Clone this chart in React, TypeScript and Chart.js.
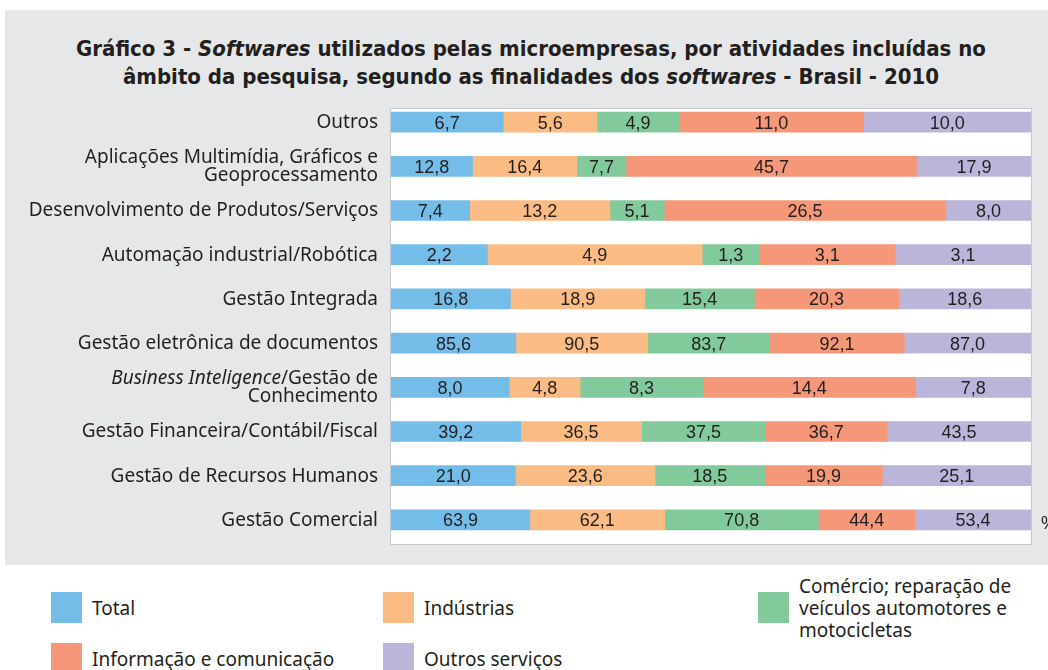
import React, { useEffect, useRef } from "react";
import { Chart, registerables } from "chart.js";

Chart.register(...registerables);

const categories = [
  "Outros",
  "Aplicações Multimídia, Gráficos e\nGeoprocessamento",
  "Desenvolvimento de Produtos/Serviços",
  "Automação industrial/Robótica",
  "Gestão Integrada",
  "Gestão eletrônica de documentos",
  "*Business Inteligence*/Gestão de\nConhecimento",
  "Gestão Financeira/Contábil/Fiscal",
  "Gestão de Recursos Humanos",
  "Gestão Comercial",
];

const seriesNames = [
  "Total",
  "Indústrias",
  "Comércio; reparação de\nveículos automotores e\nmotocicletas",
  "Informação e comunicação",
  "Outros serviços",
];

const total = [6.7, 12.8, 7.4, 2.2, 16.8, 85.6, 8.0, 39.2, 21.0, 63.9];
const industrias = [5.6, 16.4, 13.2, 4.9, 18.9, 90.5, 4.8, 36.5, 23.6, 62.1];
const comercio = [4.9, 7.7, 5.1, 1.3, 15.4, 83.7, 8.3, 37.5, 18.5, 70.8];
const informacao = [11.0, 45.7, 26.5, 3.1, 20.3, 92.1, 14.4, 36.7, 19.9, 44.4];
const outrosServicos = [10.0, 17.9, 8.0, 3.1, 18.6, 87.0, 7.8, 43.5, 25.1, 53.4];

const seriesValues = [total, industrias, comercio, informacao, outrosServicos];
const seriesColors = ["#74bde8", "#fabb85", "#82ca9b", "#f59779", "#bab5d9"];

const LABEL_FONT = '"Noto Sans", sans-serif';
const VALUE_FONT = '"Liberation Sans", Arial, sans-serif';
const TITLE_FONT = '"Liberation Sans Narrow", "DejaVu Sans Condensed", sans-serif';

const fmt = (v: number) => v.toFixed(1).replace(".", ",");

function drawMixed(ctx: CanvasRenderingContext2D, line: string, rightX: number, y: number, size: number) {
  const parts = line.split("*");
  const segs = parts.map((t, i) => ({ t, italic: i % 2 === 1 })).filter((s) => s.t.length);
  let w = 0;
  for (const s of segs) {
    ctx.font = `${s.italic ? "italic " : ""}${size}px ${LABEL_FONT}`;
    w += ctx.measureText(s.t).width;
  }
  let x = rightX - w;
  ctx.textAlign = "left";
  for (const s of segs) {
    ctx.font = `${s.italic ? "italic " : ""}${size}px ${LABEL_FONT}`;
    ctx.fillText(s.t, x, y);
    x += ctx.measureText(s.t).width;
  }
}

const customPlugin = {
  id: "customDraw",
  beforeDatasetsDraw(chart: any) {
    const { ctx, chartArea } = chart;
    ctx.save();
    const x0 = chartArea.left - 0.5;
    const y0 = chartArea.top + 8.5;
    const w = chartArea.right - chartArea.left + 1;
    const h = chartArea.bottom + 2.5 - y0;
    ctx.fillStyle = "#ffffff";
    ctx.fillRect(x0, y0, w, h);
    ctx.strokeStyle = "#c8c9cb";
    ctx.lineWidth = 1;
    ctx.strokeRect(x0, y0, w, h);
    ctx.restore();
  },
  afterDatasetsDraw(chart: any) {
    const { ctx, chartArea } = chart;
    const yScale = chart.scales.y;
    ctx.save();
    // value labels
    ctx.fillStyle = "#231f20";
    ctx.textAlign = "center";
    ctx.textBaseline = "middle";
    ctx.font = `18px ${VALUE_FONT}`;
    chart.data.datasets.forEach((ds: any, di: number) => {
      const meta = chart.getDatasetMeta(di);
      meta.data.forEach((el: any, i: number) => {
        const cx = (el.x + el.base) / 2;
        ctx.fillText(fmt(seriesValues[di][i]), cx, el.y + 1.5);
      });
    });
    // category labels
    const size = 19;
    const lineH = 18;
    ctx.textBaseline = "middle";
    categories.forEach((c, i) => {
      const y = yScale.getPixelForValue(i);
      const lines = c.split("\n");
      const startY = y - ((lines.length - 1) * lineH) / 2;
      lines.forEach((ln, li) => {
        drawMixed(ctx, ln, chartArea.left - 13, startY + li * lineH + 0.5, size);
      });
    });
    // % unit
    ctx.font = `18px ${VALUE_FONT}`;
    ctx.textAlign = "left";
    ctx.fillText("%", chartArea.right + 10, yScale.getPixelForValue(categories.length - 1) + 4);
    ctx.restore();
  },
};

export default function App() {
  const ref = useRef<HTMLCanvasElement | null>(null);

  useEffect(() => {
    if (!ref.current) return;
    const sums = categories.map((_, i) => seriesValues.reduce((a, s) => a + s[i], 0));
    const chart = new Chart(ref.current, {
      type: "bar",
      data: {
        labels: categories,
        datasets: seriesNames.map((n, di) => ({
          label: n,
          data: seriesValues[di].map((v, i) => (v / sums[i]) * 100),
          backgroundColor: seriesColors[di],
          borderWidth: 0,
          barThickness: 20,
        })),
      },
      options: {
        indexAxis: "y",
        responsive: false,
        animation: false,
        layout: { padding: { left: 0, top: 100, right: 17, bottom: 28 } },
        plugins: { legend: { display: false }, tooltip: { enabled: false }, title: { display: false } },
        scales: {
          x: { stacked: true, min: 0, max: 100, display: false },
          y: {
            stacked: true,
            grid: { display: false },
            border: { display: false },
            ticks: { display: false },
            afterFit: (scale: any) => {
              scale.width = 391;
            },
          },
        },
      },
      plugins: [customPlugin],
    } as any);
    return () => chart.destroy();
  }, []);

  const legendPos = [
    { left: 51, top: 592 },
    { left: 383, top: 592 },
    { left: 758, top: 592 },
    { left: 51, top: 643 },
    { left: 383, top: 643 },
  ];

  return (
    <div style={{ position: "absolute", left: 0, top: 0, width: 1048, height: 670, overflow: "hidden", background: "#ffffff" }}>
      <div style={{ position: "absolute", left: 5, top: 10, width: 1043, height: 555, background: "#e6e7e9" }} />
      <div
        style={{
          position: "absolute",
          left: 0,
          top: 35,
          width: 1062,
          textAlign: "center",
          fontFamily: TITLE_FONT,
          fontWeight: "bold",
          fontSize: 22,
          lineHeight: "28px",
          color: "#231f20",
        }}
      >
        <div>
          Gráfico 3 - <i>Softwares</i> utilizados pelas microempresas, por atividades incluídas no
        </div>
        <div>
          âmbito da pesquisa, segundo as finalidades dos <i>softwares</i> - Brasil - 2010
        </div>
      </div>
      <canvas ref={ref} width={1048} height={570} style={{ position: "absolute", left: 0, top: 0, width: 1048, height: 570 }} />
      {seriesNames.map((n, i) => (
        <React.Fragment key={n}>
          <div
            style={{
              position: "absolute",
              left: legendPos[i].left,
              top: legendPos[i].top,
              width: 31,
              height: 31,
              background: seriesColors[i],
            }}
          />
          <div
            style={{
              position: "absolute",
              left: legendPos[i].left + 41,
              top: legendPos[i].top + 15.5,
              transform: "translateY(-50%)",
              fontFamily: LABEL_FONT,
              fontSize: 19,
              lineHeight: "22px",
              color: "#231f20",
              whiteSpace: "pre",
            }}
          >
            {n}
          </div>
        </React.Fragment>
      ))}
    </div>
  );
}
